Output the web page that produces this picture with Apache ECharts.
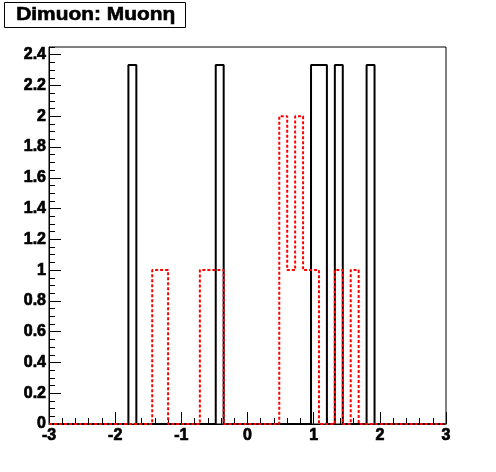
<!DOCTYPE html>
<html><head><meta charset="utf-8">
<script src="https://cdn.jsdelivr.net/npm/echarts@6/dist/echarts.min.js"></script>
<style>html,body{margin:0;padding:0;background:#fff}#c{width:496px;height:472px}</style>
</head><body><div id="c"></div>
<script>
const titleText = 'Dimuon: Muonη';
const xMin = -3, xMax = 3;
const yMax = 2.45;
const xTickLabels = ['-3', '-2', '-1', '0', '1', '2', '3'];
// 50 bins of width 0.12 over [-3, 3]
const blackCounts = [
  0,0,0,0,0,0,0,0,0,0,
  2.333,0,0,0,0,0,0,0,0,0,
  0,2.333,0,0,0,0,0,0,0,0,
  0,0,0,2.333,2.333,0,2.333,0,0,0,
  2.333,0,0,0,0,0,0,0,0,0
];
const redCounts = [
  0,0,0,0,0,0,0,0,0,0,
  0,0,0,1,1,0,0,0,0,1,
  1,1,0,0,0,0,0,0,0,2,
  1,2,1,1,0,0,1,0,1,0,
  0,0,0,0,0,0,0,0,0,0
];
function steps(counts){
  const w = (xMax - xMin) / counts.length;
  const pts = counts.map((v, i) => [xMin + i * w, v]);
  pts.push([xMax, counts[counts.length - 1]]);
  return pts;
}
const font = 'Liberation Sans, Arial, Helvetica, sans-serif';
const labelStyle = {color: '#000', fontFamily: font, fontWeight: 'bold', fontSize: 16, textBorderColor: '#000', textBorderWidth: 0.7};
const chart = echarts.init(document.getElementById('c'), null, {renderer: 'canvas'});
chart.setOption({
  animation: false,
  backgroundColor: '#fff',
  grid: {left: 49, right: 50, top: 47, bottom: 48, show: true, borderColor: '#000', borderWidth: 1, backgroundColor: 'transparent'},
  xAxis: {
    type: 'value', min: xMin, max: xMax, interval: 1,
    axisLine: {show: true, onZero: false, lineStyle: {color: '#000', width: 1}},
    axisTick: {show: true, inside: true, length: 12, lineStyle: {color: '#000', width: 1}},
    minorTick: {show: true, splitNumber: 5, length: 6, lineStyle: {color: '#000', width: 1}},
    splitLine: {show: false},
    axisLabel: Object.assign({}, labelStyle, {margin: 4,
      formatter: v => { const i = Math.round(v - xMin); return xTickLabels[i] !== undefined ? xTickLabels[i] : ''; }})
  },
  yAxis: [{
    type: 'value', min: 0, max: yMax, interval: 0.2,
    axisLine: {show: true, onZero: false, lineStyle: {color: '#000', width: 1}},
    axisTick: {show: true, inside: true, length: 12, lineStyle: {color: '#000', width: 1}},
    splitLine: {show: false},
    axisLabel: Object.assign({}, labelStyle, {margin: 3, showMaxLabel: false,
      formatter: v => (Math.abs(v / 0.2 - Math.round(v / 0.2)) < 1e-6 ? String(Math.round(v * 10) / 10) : '')})
  }, {
    type: 'value', min: 0, max: yMax, interval: 0.05, position: 'left',
    axisLine: {show: false, onZero: false},
    axisTick: {show: true, inside: true, length: 6, lineStyle: {color: '#000', width: 1}},
    splitLine: {show: false},
    axisLabel: {show: false}
  }],
  series: [{
    type: 'line', step: 'end', data: steps(blackCounts), showSymbol: false, symbol: 'none',
    lineStyle: {color: '#000', width: 2}, z: 2
  }, {
    type: 'line', step: 'end', data: steps(redCounts), showSymbol: false, symbol: 'none',
    lineStyle: {color: '#ff0000', width: 2, type: [3, 2]}, z: 3
  }],
  graphic: [{
    type: 'rect', shape: {x: 4.5, y: 2.5, width: 181, height: 25},
    style: {fill: '#fff', stroke: '#000', lineWidth: 1}
  }, {
    type: 'text', x: 18, y: 15, scaleX: 1.1, originX: 18,
    style: {text: titleText, font: 'bold 19px ' + font, fill: '#000', verticalAlign: 'middle', stroke: '#000', lineWidth: 0.6}
  }]
});
</script></body></html>
